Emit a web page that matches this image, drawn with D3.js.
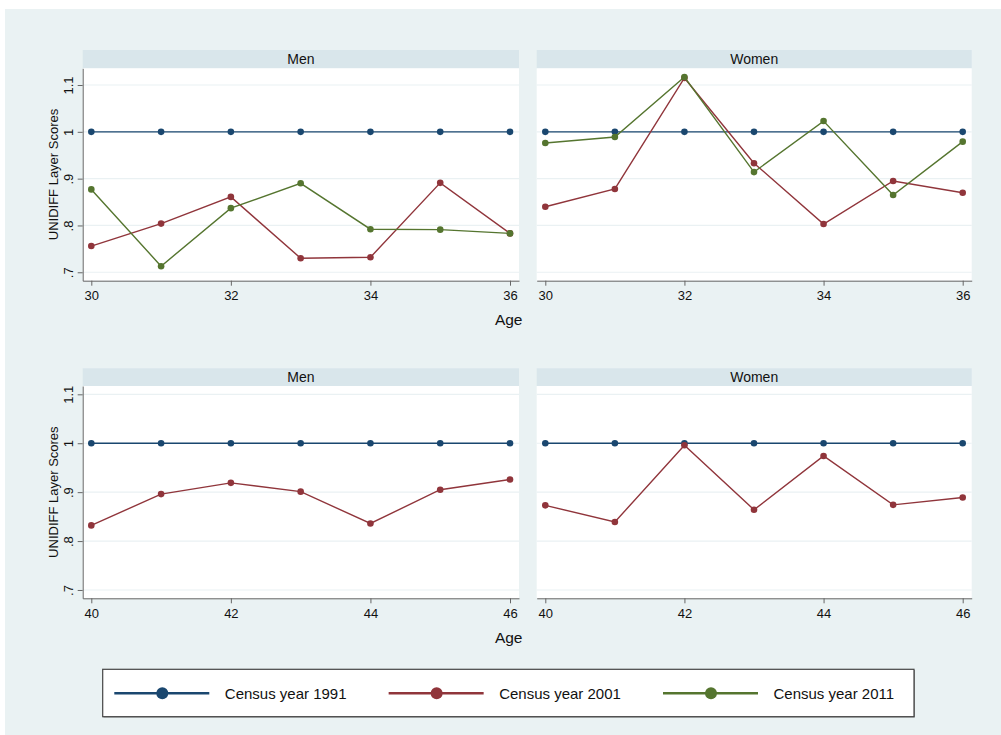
<!DOCTYPE html>
<html>
<head>
<meta charset="utf-8">
<script src="https://cdn.jsdelivr.net/npm/d3@7"></script>
<style>
  body { margin: 0; background: #fff; }
  svg { display: block; font-family: "Liberation Sans", Arial, sans-serif; }
</style>
</head>
<body>
<svg id="chart" width="1001" height="735"></svg>
<script>
// ages on the x axis
const agesYoung = [30, 31, 32, 33, 34, 35, 36];
const agesOld = [40, 41, 42, 43, 44, 45, 46];
const xTicksYoung = [30, 32, 34, 36];
const xTicksOld = [40, 42, 44, 46];
const yTicks = [0.7, 0.8, 0.9, 1, 1.1];

// UNIDIFF layer scores, 1991 is the reference year
const census1991 = [1, 1, 1, 1, 1, 1, 1];
const menYoung2001 = [0.756, 0.804, 0.861, 0.730, 0.732, 0.891, 0.783];
const menYoung2011 = [0.877, 0.713, 0.837, 0.890, 0.792, 0.791, 0.783];
const womenYoung2001 = [0.840, 0.878, 1.115, 0.933, 0.803, 0.895, 0.870];
const womenYoung2011 = [0.976, 0.989, 1.117, 0.914, 1.023, 0.865, 0.979];
const menOld2001 = [0.832, 0.896, 0.919, 0.901, 0.836, 0.905, 0.926];
const womenOld2001 = [0.873, 0.839, 0.996, 0.864, 0.974, 0.874, 0.889];

const legendLabels = ["Census year 1991", "Census year 2001", "Census year 2011"];
const colors = ["#1a476f", "#90353b", "#55752f"];

const svg = d3.select("#chart");

// outer background
svg.append("rect").attr("x", 5).attr("y", 9).attr("width", 996).attr("height", 726)
    .attr("fill", "#eaf2f3");

const cols = [{ x0: 82.7, x1: 519 }, { x0: 536.7, x1: 971.7 }];
const rows = [
    { h0: 50, y0: 68.3, y1: 280.7, dom: [0.682, 1.1357], ages: agesYoung, ticks: xTicksYoung },
    { h0: 368.3, y0: 386, y1: 598.3, dom: [0.683, 1.117], ages: agesOld, ticks: xTicksOld }
];

const panels = [
    { row: 0, col: 0, title: "Men", series: [census1991, menYoung2001, menYoung2011] },
    { row: 0, col: 1, title: "Women", series: [census1991, womenYoung2001, womenYoung2011] },
    { row: 1, col: 0, title: "Men", series: [census1991, menOld2001] },
    { row: 1, col: 1, title: "Women", series: [census1991, womenOld2001] }
];

const fmt = v => d3.format(".1f")(v).replace(/^0\./, ".").replace(/\.0$/, "");

panels.forEach(p => {
    const r = rows[p.row], c = cols[p.col];
    const g = svg.append("g");

    // header strip
    g.append("rect").attr("x", c.x0).attr("y", r.h0)
        .attr("width", c.x1 - c.x0).attr("height", r.y0 - r.h0).attr("fill", "#d9e6eb");
    g.append("text").attr("x", (c.x0 + c.x1) / 2).attr("y", (r.h0 + r.y0) / 2 + 5)
        .attr("text-anchor", "middle").attr("font-size", 14).attr("fill", "#111").text(p.title);

    // plot area
    g.append("rect").attr("x", c.x0).attr("y", r.y0)
        .attr("width", c.x1 - c.x0).attr("height", r.y1 - r.y0).attr("fill", "#fff");

    const first = r.ages[0], last = r.ages[r.ages.length - 1];
    const pxPerYear = (c.x1 - c.x0 - 17.6) / (last - first);
    const x = d3.scaleLinear()
        .domain([first - 8.6 / pxPerYear, last + 9 / pxPerYear])
        .range([c.x0, c.x1]);
    const y = d3.scaleLinear().domain(r.dom).range([r.y1, r.y0]);

    // grid lines
    g.selectAll(".grid").data(yTicks).join("line")
        .attr("x1", c.x0).attr("x2", c.x1)
        .attr("y1", d => y(d)).attr("y2", d => y(d))
        .attr("stroke", "#eaf1f3").attr("stroke-width", 1.2);

    // x axis
    const xa = g.append("g").attr("transform", `translate(0,${r.y1})`)
        .call(d3.axisBottom(x).tickValues(r.ticks).tickFormat(d3.format("d"))
            .tickSize(5).tickSizeOuter(0).tickPadding(5));
    xa.select(".domain").attr("stroke", "#666");
    xa.selectAll(".tick line").attr("stroke", "#666");
    xa.selectAll("text").attr("font-size", 13).attr("fill", "#111")
        .attr("font-family", "Liberation Sans, Arial, sans-serif");

    if (p.col === 1) {
        g.append("text").attr("x", 522.5).attr("y", r.y1 + 44.5)
            .attr("text-anchor", "end").attr("font-size", 15.5).attr("fill", "#111").text("Age");
    }

    if (p.col === 0) {
        const ya = g.append("g").attr("transform", `translate(${c.x0},0)`)
            .call(d3.axisLeft(y).tickValues(yTicks).tickFormat(fmt).tickSize(5).tickSizeOuter(0));
        ya.select(".domain").attr("stroke", "#666");
        ya.selectAll(".tick line").attr("stroke", "#666");
        ya.selectAll("text")
            .attr("transform", "rotate(-90)")
            .attr("x", 0).attr("y", -9.5).attr("dy", 0)
            .attr("text-anchor", "middle")
            .attr("font-size", 13).attr("fill", "#111")
            .attr("font-family", "Liberation Sans, Arial, sans-serif");
        g.append("text")
            .attr("transform", `translate(58,${(r.y0 + r.y1) / 2}) rotate(-90)`)
            .attr("text-anchor", "middle").attr("font-size", 13).attr("fill", "#111")
            .text("UNIDIFF Layer Scores");
    }

    // series
    const line = d3.line().x(d => x(d[0])).y(d => y(d[1]));
    p.series.forEach((vals, i) => {
        const pts = r.ages.map((a, k) => [a, vals[k]]);
        g.append("path").datum(pts).attr("d", line)
            .attr("fill", "none").attr("stroke", colors[i]).attr("stroke-width", 1.4);
        g.selectAll(null).data(pts).join("circle")
            .attr("cx", d => x(d[0])).attr("cy", d => y(d[1])).attr("r", 3.3)
            .attr("fill", colors[i]);
    });
});

// legend
const lg = svg.append("g");
lg.append("rect").attr("x", 103.5).attr("y", 670).attr("width", 811.3).attr("height", 47.4)
    .attr("fill", "#777");
lg.append("rect").attr("x", 102.7).attr("y", 669.3).attr("width", 811.3).attr("height", 47.4)
    .attr("fill", "#fff").attr("stroke", "#444").attr("stroke-width", 1.2);
const legendX = d3.scalePoint().domain(legendLabels).range([114.3, 663]);
legendLabels.forEach((lab, i) => {
    const x0 = legendX(lab), cy = 693.3;
    lg.append("line").attr("x1", x0).attr("x2", x0 + 95).attr("y1", cy).attr("y2", cy)
        .attr("stroke", colors[i]).attr("stroke-width", 2.6);
    lg.append("circle").attr("cx", x0 + 48).attr("cy", cy).attr("r", 6).attr("fill", colors[i]);
    lg.append("text").attr("x", x0 + 110.5).attr("y", cy + 5.4)
        .attr("font-size", 15).attr("fill", "#111").text(lab);
});
</script>
</body>
</html>
